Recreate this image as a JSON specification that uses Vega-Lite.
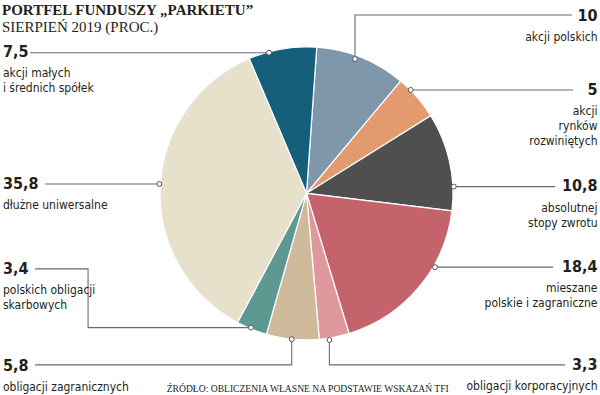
{
  "$schema": "https://vega.github.io/schema/vega-lite/v6.json",
  "width": 600,
  "height": 395,
  "padding": 0,
  "autosize": {"type": "none"},
  "background": "white",
  "config": {
    "view": {"stroke": null},
    "locale": {"number": {"decimal": ",", "thousands": " ", "grouping": [3], "currency": ["", " zł"]}}
  },
  "title": {
    "text": "PORTFEL FUNDUSZY „PARKIETU”",
    "subtitle": "SIERPIEŃ 2019 (PROC.)",
    "anchor": "start",
    "frame": "group",
    "orient": "top",
    "offset": -34.5,
    "dx": 2,
    "font": "Liberation Serif",
    "fontSize": 15,
    "fontWeight": "bold",
    "color": "#231f20",
    "subtitleFont": "Liberation Serif",
    "subtitleFontSize": 15,
    "subtitleColor": "#231f20",
    "subtitlePadding": 2
  },
  "datasets": {
    "slices": [
      {"key": "akcji polskich", "value": 10, "desc": ["akcji polskich"]},
      {"key": "akcji rynków rozwiniętych", "value": 5, "desc": ["akcji", "rynków", "rozwiniętych"]},
      {"key": "absolutnej stopy zwrotu", "value": 10.8, "desc": ["absolutnej", "stopy zwrotu"]},
      {"key": "mieszane polskie i zagraniczne", "value": 18.4, "desc": ["mieszane", "polskie i zagraniczne"]},
      {"key": "obligacji korporacyjnych", "value": 3.3, "desc": ["obligacji korporacyjnych"]},
      {"key": "obligacji zagranicznych", "value": 5.8, "desc": ["obligacji zagranicznych"]},
      {"key": "polskich obligacji skarbowych", "value": 3.4, "desc": ["polskich obligacji", "skarbowych"]},
      {"key": "dłużne uniwersalne", "value": 35.8, "desc": ["dłużne uniwersalne"]},
      {"key": "akcji małych i średnich spółek", "value": 7.5, "desc": ["akcji małych", "i średnich spółek"]}
    ],
    "callouts": [
      {"key": "akcji polskich", "side": "R", "u": 198.6, "v": 121.4},
      {"key": "akcji rynków rozwiniętych", "side": "R", "u": 198.6, "v": 70.6},
      {"key": "absolutnej stopy zwrotu", "side": "R", "u": 198.6, "v": 4.7},
      {"key": "mieszane polskie i zagraniczne", "side": "R", "u": 198.6, "v": -50.2},
      {"key": "obligacji korporacyjnych", "side": "R", "u": 198.6, "v": -117.1},
      {"key": "obligacji zagranicznych", "side": "L", "u": -207.2, "v": -117.8},
      {"key": "polskich obligacji skarbowych", "side": "L", "u": -207.2, "v": -51.6},
      {"key": "dłużne uniwersalne", "side": "L", "u": -207.2, "v": 6.4},
      {"key": "akcji małych i średnich spółek", "side": "L", "u": -207.2, "v": 96.5}
    ],
    "guides": [
      {"key": "akcji polskich", "step": 0, "u": 33.1, "v": 91.7},
      {"key": "akcji polskich", "step": 1, "u": 33.1, "v": 121.8},
      {"key": "akcji polskich", "step": 2, "u": 181.2, "v": 121.8},
      {"key": "akcji rynków rozwiniętych", "step": 0, "u": 71.1, "v": 70.6},
      {"key": "akcji rynków rozwiniętych", "step": 1, "u": 182.0, "v": 70.6},
      {"key": "absolutnej stopy zwrotu", "step": 0, "u": 100.5, "v": 4.6},
      {"key": "absolutnej stopy zwrotu", "step": 1, "u": 169.6, "v": 4.6},
      {"key": "mieszane polskie i zagraniczne", "step": 0, "u": 87.7, "v": -50.4},
      {"key": "mieszane polskie i zagraniczne", "step": 1, "u": 168.3, "v": -50.4},
      {"key": "obligacji korporacyjnych", "step": 0, "u": 15.6, "v": -100.1},
      {"key": "obligacji korporacyjnych", "step": 1, "u": 15.6, "v": -117.1},
      {"key": "obligacji korporacyjnych", "step": 2, "u": 176.5, "v": -117.1},
      {"key": "obligacji zagranicznych", "step": 0, "u": -10.1, "v": -99.6},
      {"key": "obligacji zagranicznych", "step": 1, "u": -10.1, "v": -117.1},
      {"key": "obligacji zagranicznych", "step": 2, "u": -185.3, "v": -117.1},
      {"key": "polskich obligacji skarbowych", "step": 0, "u": -37.9, "v": -91.7},
      {"key": "polskich obligacji skarbowych", "step": 1, "u": -149.1, "v": -91.7},
      {"key": "polskich obligacji skarbowych", "step": 2, "u": -149.1, "v": -51.6},
      {"key": "polskich obligacji skarbowych", "step": 3, "u": -185.3, "v": -51.6},
      {"key": "dłużne uniwersalne", "step": 0, "u": -100.5, "v": 6.4},
      {"key": "dłużne uniwersalne", "step": 1, "u": -178.5, "v": 6.4},
      {"key": "akcji małych i średnich spółek", "step": 0, "u": -25.6, "v": 96.0},
      {"key": "akcji małych i średnich spółek", "step": 1, "u": -188.7, "v": 96.0}
    ]
  },
  "layer": [
    {
      "data": {"name": "slices"},
      "transform": [{"window": [{"op": "row_number", "as": "i"}]}],
      "mark": {"type": "arc", "outerRadius": 146.5, "stroke": "white", "strokeWidth": 1.2},
      "encoding": {
        "theta": {"field": "value", "type": "quantitative", "stack": true, "scale": {"range": [0.0698, 6.353]}},
        "color": {
          "field": "key", "type": "nominal", "legend": null,
          "scale": {
            "domain": ["akcji polskich", "akcji rynków rozwiniętych", "absolutnej stopy zwrotu", "mieszane polskie i zagraniczne", "obligacji korporacyjnych", "obligacji zagranicznych", "polskich obligacji skarbowych", "dłużne uniwersalne", "akcji małych i średnich spółek"],
            "range": ["#7f97ab", "#e39a6e", "#4f4f4f", "#c5636c", "#df989c", "#cfba9c", "#5d9891", "#e7e1cc", "#155f7d"]
          }
        },
        "order": {"field": "i", "type": "quantitative"},
        "x": {"datum": 0, "type": "quantitative", "scale": {"domain": [-209.2, 200.3], "nice": false, "zero": false}, "axis": null},
        "y": {"datum": 0, "type": "quantitative", "scale": {"domain": [-137.7, 132.0], "nice": false, "zero": false}, "axis": null}
      }
    },
    {
      "data": {"name": "guides"},
      "mark": {"type": "line", "color": "#6b6b6b", "strokeWidth": 1.1},
      "encoding": {
        "x": {"field": "u", "type": "quantitative", "scale": {"domain": [-209.2, 200.3], "nice": false, "zero": false}, "axis": null},
        "y": {"field": "v", "type": "quantitative", "scale": {"domain": [-137.7, 132.0], "nice": false, "zero": false}, "axis": null},
        "detail": {"field": "key", "type": "nominal"},
        "order": {"field": "step", "type": "quantitative"}
      }
    },
    {
      "data": {"name": "guides"},
      "transform": [{"filter": "datum.step === 0"}],
      "mark": {"type": "point", "filled": true, "fill": "white", "stroke": "#555555", "strokeWidth": 1, "size": 24, "opacity": 1},
      "encoding": {
        "x": {"field": "u", "type": "quantitative"},
        "y": {"field": "v", "type": "quantitative"}
      }
    },
    {
      "data": {"name": "callouts"},
      "transform": [
        {"filter": "datum.side === 'R'"},
        {"lookup": "key", "from": {"data": {"name": "slices"}, "key": "key", "fields": ["value", "desc"]}}
      ],
      "mark": {"type": "text", "align": "right", "baseline": "middle", "font": "DejaVu Sans Condensed, Roboto, sans-serif", "fontSize": 16, "fontWeight": "bold", "color": "#231f20"},
      "encoding": {
        "x": {"field": "u", "type": "quantitative"},
        "y": {"field": "v", "type": "quantitative"},
        "text": {"field": "value", "type": "quantitative", "format": ".1~f"}
      }
    },
    {
      "data": {"name": "callouts"},
      "transform": [
        {"filter": "datum.side === 'L'"},
        {"lookup": "key", "from": {"data": {"name": "slices"}, "key": "key", "fields": ["value", "desc"]}}
      ],
      "mark": {"type": "text", "align": "left", "baseline": "middle", "font": "DejaVu Sans Condensed, Roboto, sans-serif", "fontSize": 16, "fontWeight": "bold", "color": "#231f20"},
      "encoding": {
        "x": {"field": "u", "type": "quantitative"},
        "y": {"field": "v", "type": "quantitative"},
        "text": {"field": "value", "type": "quantitative", "format": ".1~f"}
      }
    },
    {
      "data": {"name": "callouts"},
      "transform": [
        {"filter": "datum.side === 'R'"},
        {"lookup": "key", "from": {"data": {"name": "slices"}, "key": "key", "fields": ["value", "desc"]}}
      ],
      "mark": {"type": "text", "align": "right", "baseline": "alphabetic", "dy": 25.5, "lineHeight": 15, "font": "DejaVu Sans Condensed, Roboto, sans-serif", "fontSize": 12, "color": "#231f20"},
      "encoding": {
        "x": {"field": "u", "type": "quantitative"},
        "y": {"field": "v", "type": "quantitative"},
        "text": {"field": "desc"}
      }
    },
    {
      "data": {"name": "callouts"},
      "transform": [
        {"filter": "datum.side === 'L'"},
        {"lookup": "key", "from": {"data": {"name": "slices"}, "key": "key", "fields": ["value", "desc"]}}
      ],
      "mark": {"type": "text", "align": "left", "baseline": "alphabetic", "dy": 25.5, "lineHeight": 15, "font": "DejaVu Sans Condensed, Roboto, sans-serif", "fontSize": 12, "color": "#231f20"},
      "encoding": {
        "x": {"field": "u", "type": "quantitative"},
        "y": {"field": "v", "type": "quantitative"},
        "text": {"field": "desc"}
      }
    },
    {
      "data": {"values": [{"note": "ŹRÓDŁO: OBLICZENIA WŁASNE NA PODSTAWIE WSKAZAŃ TFI"}]},
      "mark": {"type": "text", "align": "left", "baseline": "alphabetic", "font": "Liberation Serif", "fontSize": 9.6, "color": "#231f20"},
      "encoding": {
        "x": {"datum": -95.4, "type": "quantitative"},
        "y": {"datum": -135.6, "type": "quantitative"},
        "text": {"field": "note"}
      }
    }
  ]
}
